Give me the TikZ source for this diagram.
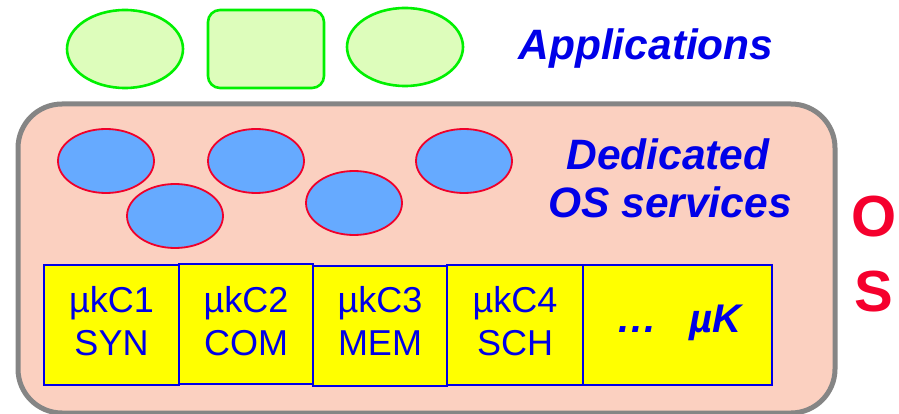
\documentclass[tikz,border=0pt]{standalone}
\usepackage{fontspec}
\setmainfont{Liberation Sans}
\usetikzlibrary{shapes.geometric}
\definecolor{appfill}{HTML}{DDFDBB}
\definecolor{appline}{HTML}{00F000}
\definecolor{osfill}{HTML}{FBD0C0}
\definecolor{osline}{HTML}{858585}
\definecolor{srvfill}{HTML}{66AAFF}
\definecolor{srvline}{HTML}{F0002A}
\definecolor{txtblue}{HTML}{0000E8}
\definecolor{osred}{HTML}{F5002D}
\definecolor{kyellow}{HTML}{FFFF00}
\tikzset{
  app/.style={draw=appline, fill=appfill, line width=2.6pt, inner sep=0pt},
  appell/.style={app, ellipse, minimum width=116, minimum height=78},
  appbox/.style={app, rectangle, rounded corners=12, minimum width=116, minimum height=78},
  srv/.style={ellipse, draw=srvline, fill=srvfill, line width=1.8pt, minimum width=96, minimum height=64, inner sep=0pt},
  kbox/.style={rectangle, draw=txtblue, fill=kyellow, line width=1.6pt, inner sep=0pt, minimum height=120},
  ktext/.style={anchor=base, text=txtblue, font=\fontsize{36}{43}\selectfont, inner sep=0pt},
  title/.style={text=txtblue, font=\fontsize{42.5}{47}\selectfont\bfseries\itshape, align=center, inner sep=0pt},
  osletter/.style={anchor=base, text=osred, font=\fontsize{58}{70}\selectfont\bfseries, inner sep=0pt}
}
\begin{document}
\begin{tikzpicture}[x=1pt, y=-1pt]
\useasboundingbox (0,0) rectangle (899,414);

% applications
\node[appell] (a1) at (125,49) {};
\node[appbox] (a2) at (266,49) {};
\node[appell] (a3) at (405,47) {};
\node[title, anchor=base] (apps) at (646,60) {Applications};

% operating system container
\node[draw=osline, fill=osfill, line width=5pt, rounded corners=44, rectangle,
      minimum width=817, minimum height=309, inner sep=0pt] (os) at (426.5,258.5) {};

% dedicated services
\node[srv] (s1) at (106,161) {};
\node[srv] (s2) at (175,216) {};
\node[srv] (s3) at (256,161) {};
\node[srv] (s4) at (354,203) {};
\node[srv] (s5) at (464,161) {};
\node[title, anchor=base] (ded) at (668,170) {Dedicated};
\node[title, anchor=base] (oss) at (670,217) {OS services};

% microkernel components
\node[kbox, minimum width=135] (k1) at (111.5,325) {};
\node[kbox, minimum width=134] (k2) at (246,324) {};
\node[kbox, minimum width=134] (k3) at (380,326) {};
\node[kbox, minimum width=136] (k4) at (515,325) {};
\node[kbox, minimum width=189] (k5) at (677.5,325) {};

\node[ktext] (t1a) at (111.5,312) {µkC1};
\node[ktext] (t1b) at (111.5,355) {SYN};
\node[ktext] (t2a) at (246,312) {µkC2};
\node[ktext] (t2b) at (246,355) {COM};
\node[ktext] (t3a) at (380,312) {µkC3};
\node[ktext] (t3b) at (380,355) {MEM};
\node[ktext] (t4a) at (515,312) {µkC4};
\node[ktext] (t4b) at (515,355) {SCH};
\node[ktext, font=\fontsize{40}{43}\selectfont\bfseries\itshape] (t5) at (680,332) {.\kern0.05em.\kern0.05em.\hspace{0.85em}µK};

% OS label
\node[osletter] (lo) at (874,236) {O};
\node[osletter] (ls) at (874,311) {S};
\end{tikzpicture}
\end{document}
